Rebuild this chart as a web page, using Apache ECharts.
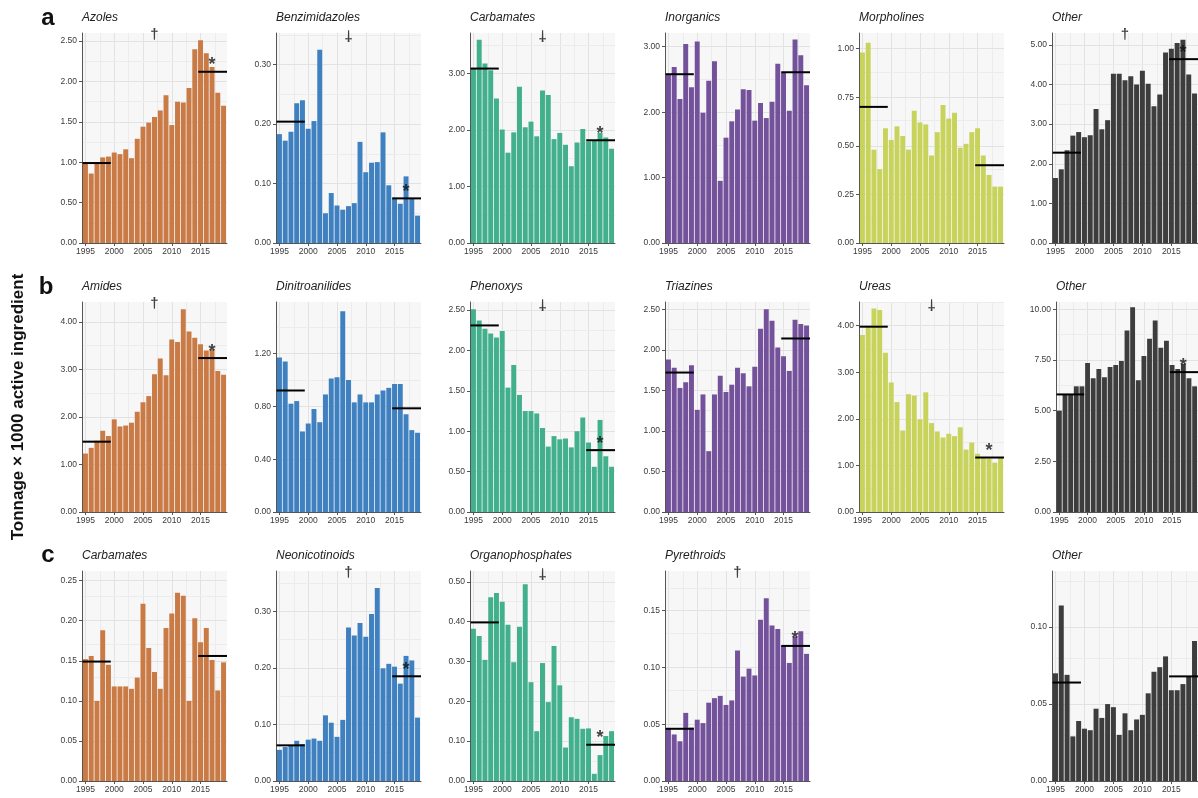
<!DOCTYPE html>
<html><head><meta charset="utf-8">
<script src="https://cdn.jsdelivr.net/npm/echarts@6/dist/echarts.min.js"></script>
<style>html,body{margin:0;padding:0;background:#fff}#c{width:1198px;height:798px}</style>
</head><body><div id="c"></div>
<script>
const years = [1995,1996,1997,1998,1999,2000,2001,2002,2003,2004,2005,2006,2007,2008,2009,2010,2011,2012,2013,2014,2015,2016,2017,2018,2019];
const xTickLabels = [1995,2000,2005,2010,2015];

// a: fungicides
const azoles = [0.99,0.86,0.99,1.06,1.07,1.12,1.10,1.16,1.05,1.29,1.44,1.49,1.56,1.64,1.83,1.46,1.75,1.74,1.92,2.40,2.51,2.35,2.18,1.86,1.70];
const benzimidazoles = [0.183,0.172,0.187,0.235,0.240,0.192,0.205,0.325,0.050,0.084,0.063,0.056,0.062,0.067,0.170,0.119,0.135,0.136,0.186,0.097,0.076,0.066,0.112,0.075,0.046];
const carbamatesF = [3.10,3.60,3.18,3.06,2.56,2.01,1.60,1.96,2.77,2.05,2.15,1.89,2.70,2.62,1.84,1.95,1.74,1.36,1.78,2.02,1.80,1.82,1.95,1.87,1.67];
const inorganics = [2.58,2.69,2.20,3.04,2.38,3.08,1.99,2.48,2.78,0.95,1.61,1.86,2.04,2.35,2.34,1.87,2.14,1.91,2.16,2.74,2.60,2.02,3.11,2.87,2.41];
const morpholines = [0.98,1.03,0.48,0.38,0.59,0.53,0.60,0.55,0.48,0.68,0.62,0.61,0.45,0.57,0.71,0.64,0.67,0.49,0.51,0.57,0.59,0.45,0.35,0.29,0.29];
const otherF = [1.64,1.86,2.34,2.71,2.80,2.67,2.72,3.38,2.87,3.10,4.27,4.27,4.11,4.21,4.00,4.35,4.02,3.45,3.75,4.81,4.90,5.05,5.13,4.25,3.77];
// b: herbicides
const amides = [1.23,1.35,1.50,1.71,1.60,1.95,1.80,1.82,1.88,2.11,2.31,2.44,2.90,3.23,2.88,3.63,3.58,4.27,3.80,3.67,3.53,3.40,3.42,2.97,2.89];
const dinitroanilides = [1.17,1.14,0.82,0.84,0.61,0.67,0.78,0.68,0.89,1.01,1.02,1.52,1.00,0.83,0.89,0.83,0.83,0.89,0.92,0.94,0.97,0.97,0.74,0.62,0.60];
const phenoxys = [2.51,2.37,2.27,2.21,2.16,2.24,1.54,1.82,1.45,1.25,1.25,1.22,1.04,0.81,0.94,0.90,0.91,0.80,1.00,1.17,0.86,0.56,1.14,0.69,0.56];
const triazines = [1.88,1.78,1.53,1.60,1.81,1.26,1.45,0.75,1.45,1.68,1.48,1.57,1.78,1.71,1.55,1.79,2.26,2.50,2.36,2.03,1.92,1.74,2.37,2.32,2.30];
const ureas = [3.80,3.98,4.37,4.34,3.42,2.78,2.36,1.75,2.53,2.50,1.99,2.57,1.91,1.73,1.60,1.68,1.63,1.82,1.34,1.49,1.25,1.16,1.15,1.06,1.16];
const otherH = [5.00,5.80,5.80,6.20,6.20,7.35,6.60,7.05,6.65,7.15,7.25,7.45,8.95,10.10,6.50,7.70,8.55,9.45,8.10,8.45,7.25,7.05,7.30,6.60,6.20];
// c: insecticides
const carbamatesI = [0.152,0.156,0.100,0.188,0.145,0.118,0.118,0.118,0.115,0.129,0.221,0.166,0.136,0.115,0.191,0.209,0.235,0.231,0.100,0.203,0.173,0.191,0.151,0.113,0.148];
const neonicotinoids = [0.055,0.060,0.063,0.071,0.065,0.073,0.075,0.071,0.116,0.103,0.078,0.108,0.271,0.257,0.279,0.255,0.295,0.341,0.199,0.207,0.202,0.172,0.221,0.213,0.112];
const organophosphates = [0.382,0.364,0.304,0.461,0.472,0.450,0.392,0.298,0.387,0.494,0.248,0.125,0.296,0.198,0.339,0.240,0.084,0.160,0.156,0.131,0.132,0.018,0.065,0.113,0.125];
const pyrethroids = [0.046,0.041,0.035,0.060,0.047,0.054,0.051,0.069,0.073,0.075,0.067,0.071,0.115,0.092,0.099,0.093,0.142,0.161,0.137,0.134,0.119,0.104,0.127,0.132,0.112];
const otherI = [0.070,0.114,0.069,0.029,0.039,0.034,0.033,0.047,0.041,0.050,0.048,0.030,0.044,0.033,0.040,0.043,0.057,0.071,0.074,0.081,0.059,0.059,0.063,0.068,0.091];

// mean lines (1995-1999 and 2015-2019), in panel order
const baselineMeans = [0.99,0.204,3.09,2.58,0.70,2.28, 1.48,0.92,2.31,1.72,3.98,5.80, 0.149,0.063,0.398,0.046,0.064];
const recentMeans   = [2.12,0.075,1.82,2.61,0.40,4.64, 3.24,0.785,0.766,2.14,1.17,6.90, 0.156,0.185,0.091,0.119,0.068];

const panelTitles = ['Azoles','Benzimidazoles','Carbamates','Inorganics','Morpholines','Other',
  'Amides','Dinitroanilides','Phenoxys','Triazines','Ureas','Other',
  'Carbamates','Neonicotinoids','Organophosphates','Pyrethroids','Other'];
const panelData = [azoles,benzimidazoles,carbamatesF,inorganics,morpholines,otherF,
  amides,dinitroanilides,phenoxys,triazines,ureas,otherH,
  carbamatesI,neonicotinoids,organophosphates,pyrethroids,otherI];
const yMaxes = [2.60,0.353,3.72,3.21,1.08,5.30, 4.42,1.59,2.60,2.59,4.51,10.36, 0.262,0.371,0.527,0.185,0.1365];
const yIntervals = [0.5,0.1,1,1,0.25,1, 1,0.4,0.5,0.5,1,2.5, 0.05,0.1,0.1,0.05,0.05];
// trend markers: 'up' = dagger, 'down' = turned dagger
const daggers = ['up','down','down',null,null,'up', 'up',null,'down',null,'down',null, null,'up','down','up',null];
const stars = [true,true,true,false,false,true, true,false,true,false,true,true, false,true,true,true,false];

const ORANGE='#C97A45', BLUE='#3F81C0', GREEN='#42B08C', PURPLE='#74529B', YG='#C8D35C', GRAY='#3D3D3D';
const colColors = [ORANGE,BLUE,GREEN,PURPLE,YG,GRAY];
const cols = [0,1,2,3,4,5, 0,1,2,3,4,5, 0,1,2,3,5];
const rows = [0,0,0,0,0,0, 1,1,1,1,1,1, 2,2,2,2,2];
const colLeft = [82,276,470,665,859,1052];
const rowTop = [33,302,571];
const PH = 210;
const FONT = '"Liberation Sans", Arial, Helvetica, sans-serif';

const option = {
  animation:false,
  textStyle:{fontFamily:FONT},
  grid:[], xAxis:[], yAxis:[], series:[], title:[],
  graphic:[
    {type:'text', x:18, y:407, rotation:Math.PI/2, style:{text:'Tonnage \u00d7 1000 active ingredient', font:'bold 17px '+FONT, fill:'#111', textAlign:'center', textVerticalAlign:'middle'}},
    {type:'text', x:48, y:18, style:{text:'a', font:'bold 24px '+FONT, fill:'#111', textAlign:'center', textVerticalAlign:'middle'}},
    {type:'text', x:46, y:287, style:{text:'b', font:'bold 24px '+FONT, fill:'#111', textAlign:'center', textVerticalAlign:'middle'}},
    {type:'text', x:48, y:555, style:{text:'c', font:'bold 24px '+FONT, fill:'#111', textAlign:'center', textVerticalAlign:'middle'}}
  ]
};

function isMult(v, step){ const r=v/step; return Math.abs(r-Math.round(r))<1e-6; }

panelData.forEach((vals,i)=>{
  const c = cols[i], r = rows[i];
  const left = (c===5 && r===1) ? 1056 : colLeft[c];
  const width = c===5 ? 150 : 145;
  const top = rowTop[r];
  const ymax = yMaxes[i], step = yIntervals[i];
  const yTicks = [];
  for(let k=0; k*step<=ymax+1e-9; k++) yTicks.push(+(k*step).toFixed(6));
  option.grid.push({left:left, top:top, width:width, height:PH, show:true, backgroundColor:'#f7f7f7', borderWidth:0});
  option.title.push({text:panelTitles[i], left:left, top:top-21, padding:0,
    textStyle:{fontStyle:'italic', fontWeight:'normal', fontSize:12, color:'#222', fontFamily:FONT}});
  const axisCol = '#555';
  option.xAxis.push({type:'value', gridIndex:i, min:1994.4, max:2019.6, splitNumber:5,
    axisLine:{show:true, onZero:false, lineStyle:{color:axisCol, width:1}},
    axisTick:{show:true, length:3, customValues:xTickLabels, lineStyle:{color:axisCol}},
    axisLabel:{customValues:xTickLabels, fontSize:8.5, color:'#3a3a3a', margin:4, fontFamily:FONT,
      formatter:v=> isMult(v,5) ? String(Math.round(v)) : ''},
    splitLine:{show:false}});
  option.yAxis.push({type:'value', gridIndex:i, min:0, max:ymax, interval:step,
    axisLine:{show:true, onZero:false, lineStyle:{color:axisCol, width:1}},
    axisTick:{show:true, length:3, customValues:yTicks, lineStyle:{color:axisCol}},
    axisLabel:{customValues:yTicks, fontSize:8.5, color:'#3a3a3a', margin:5, fontFamily:FONT,
      formatter:v=> isMult(v,step) ? v.toFixed(2) : ''},
    splitLine:{show:false}});
  // grid lines (major + minor) drawn under the bars
  const gl = [];
  for(let yv=1995; yv<=2015; yv+=5) gl.push({xAxis:yv, lineStyle:{color:'#e2e2e2', width:1, type:'solid'}});
  for(let yv=1997.5; yv<=2019; yv+=5) gl.push({xAxis:yv, lineStyle:{color:'#ececec', width:1, type:'solid'}});
  yTicks.forEach(t=>{ if(t>0) gl.push({yAxis:t, lineStyle:{color:'#e2e2e2', width:1, type:'solid'}}); });
  yTicks.forEach(t=>{ const m=t+step/2; if(m<ymax) gl.push({yAxis:m, lineStyle:{color:'#ececec', width:1, type:'solid'}}); });
  option.series.push({type:'line', xAxisIndex:i, yAxisIndex:i, z:0, silent:true, symbol:'none',
    lineStyle:{width:0, opacity:0}, data:[[1994.4,0]],
    markLine:{silent:true, z:0, symbol:['none','none'], label:{show:false}, data:gl}});
  option.series.push({type:'bar', xAxisIndex:i, yAxisIndex:i, z:2, barWidth:'86%',
    itemStyle:{color:colColors[c]}, data:years.map((y,k)=>[y, vals[k]])});
  option.series.push({type:'line', xAxisIndex:i, yAxisIndex:i, z:4, symbol:'none', silent:true,
    lineStyle:{color:'#000', width:2}, data:[[1994.5, baselineMeans[i]],[1999.4, baselineMeans[i]]]});
  option.series.push({type:'line', xAxisIndex:i, yAxisIndex:i, z:4, symbol:'none', silent:true,
    lineStyle:{color:'#000', width:2}, data:[[2014.6, recentMeans[i]],[2019.6, recentMeans[i]]]});
  if(stars[i]){
    option.series.push({type:'scatter', xAxisIndex:i, yAxisIndex:i, z:5, symbolSize:1, silent:true,
      itemStyle:{color:'rgba(0,0,0,0)'},
      label:{show:true, position:'top', distance:-3, formatter:'*', fontSize:18, fontWeight:'bold', color:'#111', fontFamily:FONT},
      data:[[2017, recentMeans[i]]]});
  }
  if(daggers[i]){
    option.series.push({type:'scatter', xAxisIndex:i, yAxisIndex:i, z:5, symbolSize:1, silent:true, clip:false,
      itemStyle:{color:'rgba(0,0,0,0)'},
      label:{show:true, position:'inside', formatter:'\u2020', fontSize:15, fontWeight:'bold', color:'#111', fontFamily:FONT,
        rotate: daggers[i]==='down' ? 180 : 0},
      data:[[2007, ymax*0.99]]});
  }
});

const chart = echarts.init(document.getElementById('c'), null, {renderer:'canvas'});
chart.setOption(option);
</script>
</body></html>
